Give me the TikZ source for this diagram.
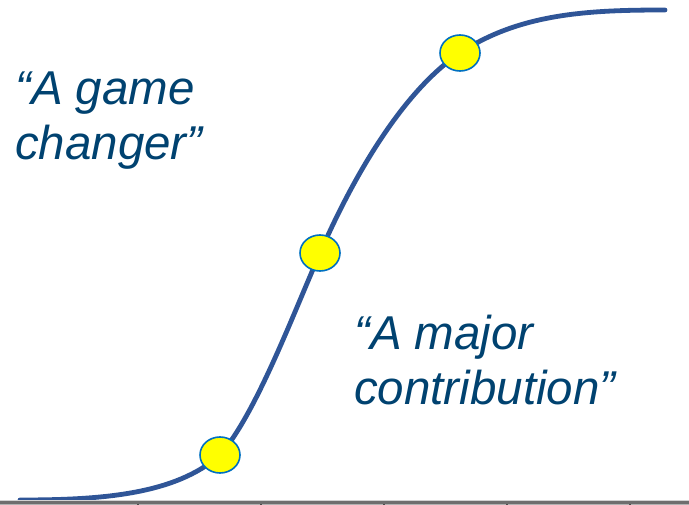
\documentclass[tikz,border=0pt]{standalone}
\usepackage{fontspec}
\setmainfont{Liberation Sans}
\usetikzlibrary{shapes.geometric,backgrounds}
\definecolor{curveblue}{RGB}{47,85,151}
\definecolor{rimblue}{RGB}{0,112,192}
\definecolor{quoteblue}{RGB}{0,66,112}
\definecolor{dotyellow}{RGB}{255,255,0}
\definecolor{rulegray}{RGB}{110,110,110}
\tikzset{
  milestone/.style={ellipse, draw=rimblue, line width=1.6pt, fill=dotyellow,
    minimum width=40pt, minimum height=36pt, inner sep=0pt},
  quote/.style={font=\fontsize{47.5}{55}\selectfont\itshape, text=quoteblue,
    align=left, anchor=north west, inner sep=0pt},
  scurve/.style={draw=curveblue, line width=4.8pt, line cap=round}
}
\begin{document}
\begin{tikzpicture}[x=1pt,y=-1pt]
  \useasboundingbox (0,0) rectangle (689,505);
  % baseline rule with faint tick marks
  \fill[gray!35] (0,499.5) rectangle (689,501);
  \fill[rulegray] (0,501) rectangle (689,503.5);
  \fill[gray!60] (0,503.5) rectangle (689,505);
  \foreach \tx in {138,261,384,507,630} {
    \fill[black!70] (\tx-0.6,503.5) rectangle (\tx+0.6,505);
  }
  % end points of the adoption curve
  \coordinate (start) at (20,500);
  \coordinate (finish) at (665,10);
  % milestones along the curve
  \node[milestone] (low) at (220,455) {};
  \node[milestone] (mid) at (320,253) {};
  \node[milestone] (high) at (460,53) {};
  % the S-curve, drawn beneath the milestones
  \begin{pgfonlayer}{background}
    \draw[scurve] (start) .. controls (100,500) and (175,495) .. (low.center)
      .. controls (255,415) and (290,322) .. (mid.center)
      .. controls (350,184) and (400,93) .. (high.center)
      .. controls (520,13) and (590,10) .. (finish);
  \end{pgfonlayer}
  % quotations
  \node[quote] (gamechanger) at (15,72) {“A game\\changer”};
  \node[quote] (major) at (354,315) {“A major\\contribution”};
\end{tikzpicture}
\end{document}
